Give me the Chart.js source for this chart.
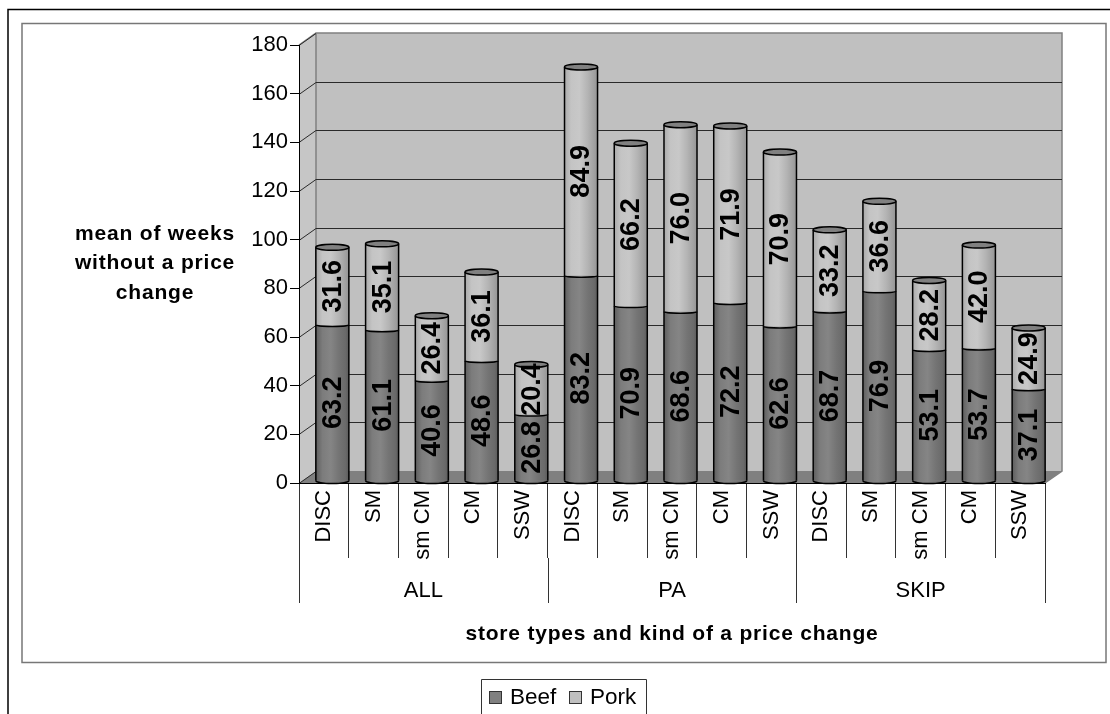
<!DOCTYPE html>
<html>
<head>
<meta charset="utf-8">
<style>
  html, body { margin: 0; padding: 0; background: #fff; overflow: hidden; }
  canvas { display: block; }
</style>
<script src="https://cdn.jsdelivr.net/npm/chart.js"></script>
</head>
<body>
<canvas id="chart" width="1110" height="714"></canvas>
<script>
const categories = ['DISC', 'SM', 'sm CM', 'CM', 'SSW', 'DISC', 'SM', 'sm CM', 'CM', 'SSW', 'DISC', 'SM', 'sm CM', 'CM', 'SSW'];
const groups = ['ALL', 'PA', 'SKIP'];
const beef = [63.2, 61.1, 40.6, 48.6, 26.8, 83.2, 70.9, 68.6, 72.2, 62.6, 68.7, 76.9, 53.1, 53.7, 37.1];
const pork = [31.6, 35.1, 26.4, 36.1, 20.4, 84.9, 66.2, 76.0, 71.9, 70.9, 33.2, 36.6, 28.2, 42.0, 24.9];
const yTitle = ['mean of weeks', 'without a price', 'change'];
const xTitle = 'store types and kind of a price change';

const FONT = '"Liberation Sans", Arial, sans-serif';
const DEPTH_X = 17, DEPTH_Y = 12, BAR_SHIFT = 8.5, ELL = 3;

// horizontal shading so the bars look like cylinders
function shade(ctx, stops) {
    const chart = ctx.chart;
    const x = chart.scales.x ? chart.scales.x.getPixelForValue(ctx.dataIndex) : NaN;
    if (!isFinite(x)) return stops[2][1]; // scales not laid out yet
    const w = 16.5;
    const g = chart.ctx.createLinearGradient(x - w, 0, x + w, 0);
    stops.forEach(s => g.addColorStop(s[0], s[1]));
    return g;
}
const beefStops = [[0, '#5e5e5e'], [0.2, '#7c7c7c'], [0.45, '#858585'], [0.7, '#747474'], [0.9, '#6a6a6a'], [1, '#5a5a5a']];
const porkStops = [[0, '#aaaaaa'], [0.2, '#c4c4c4'], [0.45, '#c8c8c8'], [0.7, '#b4b4b4'], [0.9, '#a0a0a0'], [1, '#949494']];

const backdrop = {
    id: 'backdrop',
    beforeDraw(chart) {
        const c = chart.ctx, y = chart.scales.y, x = chart.scales.x;
        const l = x.left, r = x.right, b = y.getPixelForValue(0), t = y.getPixelForValue(180);

        // frames
        c.save();
        c.strokeStyle = '#000';
        c.lineWidth = 1.5;
        c.beginPath();
        c.moveTo(8, 714); c.lineTo(8, 9.5); c.lineTo(1110, 9.5);
        c.stroke();
        c.strokeStyle = '#777';
        c.lineWidth = 1.5;
        c.strokeRect(22, 23.5, 1084, 639);

        // back wall, side wall, floor
        c.fillStyle = '#c0c0c0';
        c.fillRect(l + DEPTH_X, t - DEPTH_Y, r - l, b - t);
        c.fillStyle = '#c6c6c6';
        c.beginPath();
        c.moveTo(l, b); c.lineTo(l + DEPTH_X, b - DEPTH_Y); c.lineTo(l + DEPTH_X, t - DEPTH_Y); c.lineTo(l, t);
        c.closePath(); c.fill();
        c.fillStyle = '#808080';
        c.beginPath();
        c.moveTo(l, b); c.lineTo(l + DEPTH_X, b - DEPTH_Y); c.lineTo(r + DEPTH_X, b - DEPTH_Y); c.lineTo(r, b);
        c.closePath(); c.fill();

        c.strokeStyle = '#808080';
        c.lineWidth = 1.5;
        c.beginPath();
        c.moveTo(l, t); c.lineTo(l + DEPTH_X, t - DEPTH_Y); c.lineTo(r + DEPTH_X, t - DEPTH_Y);
        c.lineTo(r + DEPTH_X, b - DEPTH_Y); c.lineTo(r, b);
        c.moveTo(l + DEPTH_X, t - DEPTH_Y); c.lineTo(l + DEPTH_X, b - DEPTH_Y);
        c.stroke();

        // gridlines on the wall, with the slant back to the axis
        y.ticks.forEach(tick => {
            const p = Math.round(y.getPixelForValue(tick.value)) + 0.5;
            c.strokeStyle = '#2a2a2a';
            c.lineWidth = 1;
            c.beginPath();
            c.moveTo(l, p); c.lineTo(l + DEPTH_X, p - DEPTH_Y);
            if (tick.value > 0 && tick.value < 180) c.lineTo(r + DEPTH_X, p - DEPTH_Y);
            c.stroke();
        });
        c.restore();
    },
    beforeDatasetsDraw(chart) {
        chart.ctx.save();
        chart.ctx.translate(BAR_SHIFT, 0);
    },
    afterDatasetsDraw(chart) {
        const c = chart.ctx;
        const low = chart.getDatasetMeta(0).data, high = chart.getDatasetMeta(1).data;
        c.strokeStyle = '#000';
        c.lineWidth = 1.5;
        low.forEach((bar, i) => {
            const top = high[i], w = bar.width / 2;
            // rounded foot
            c.fillStyle = shade({ chart, dataIndex: i }, beefStops);
            c.beginPath();
            c.ellipse(bar.x, bar.base, w, ELL, 0, 0, Math.PI);
            c.closePath(); c.fill();
            c.beginPath();
            c.ellipse(bar.x, bar.base, w, ELL, 0, 0, Math.PI);
            c.stroke();
            // seam between the two stacks
            c.fillStyle = shade({ chart, dataIndex: i }, porkStops);
            c.beginPath();
            c.ellipse(bar.x, bar.y, w, ELL * 0.5, 0, 0, Math.PI);
            c.closePath(); c.fill();
            c.beginPath();
            c.ellipse(bar.x, bar.y, w, ELL * 0.5, 0, 0, Math.PI);
            c.stroke();
            // sides
            c.beginPath();
            c.moveTo(bar.x - w, bar.base); c.lineTo(bar.x - w, top.y);
            c.moveTo(bar.x + w, bar.base); c.lineTo(bar.x + w, top.y);
            c.stroke();
            // lid
            c.fillStyle = '#808080';
            c.beginPath();
            c.ellipse(top.x, top.y, w, ELL, 0, 0, Math.PI * 2);
            c.fill(); c.stroke();
        });

        // values, turned on their side
        c.fillStyle = '#000';
        c.font = 'bold 27px ' + FONT;
        c.textAlign = 'center';
        c.textBaseline = 'middle';
        chart.data.datasets.forEach((set, d) => {
            chart.getDatasetMeta(d).data.forEach((bar, i) => {
                c.save();
                c.translate(bar.x, (bar.y + bar.base) / 2);
                c.rotate(-Math.PI / 2);
                c.fillText(set.data[i].toFixed(1), 0, 1);
                c.restore();
            });
        });
        c.restore();
    },
    afterDraw(chart) {
        const c = chart.ctx, x = chart.scales.x;
        const step = (x.right - x.left) / categories.length;
        c.save();

        // second level of the category axis
        c.strokeStyle = '#333';
        c.lineWidth = 1;
        c.fillStyle = '#000';
        c.font = '22px ' + FONT;
        c.textAlign = 'center';
        c.textBaseline = 'middle';
        groups.forEach((g, i) => {
            const from = x.left + step * 5 * i;
            c.fillText(g, from + step * 2.5, 591);
        });
        for (let i = 0; i <= groups.length; i++) {
            const p = Math.round(x.left + step * 5 * i) + 0.5;
            c.beginPath();
            c.moveTo(p, 558); c.lineTo(p, 603);
            c.stroke();
        }

        // axis titles, the original sets them a little wide
        c.font = 'bold 21px ' + FONT;
        c.letterSpacing = '0.8px';
        c.fillText(xTitle, 672, 634);
        yTitle.forEach((line, i) => c.fillText(line, 155, 234 + i * 29.5));
        c.letterSpacing = '0px';

        // legend, cut by the bottom of the picture like the original
        c.strokeStyle = '#333';
        c.beginPath();
        c.moveTo(481.5, 714); c.lineTo(481.5, 679.5); c.lineTo(646.5, 679.5); c.lineTo(646.5, 714);
        c.stroke();
        c.font = '22.5px ' + FONT;
        c.textAlign = 'left';
        const pos = [[489.5, 510], [569.5, 590]];
        chart.data.datasets.forEach((set, i) => {
            c.fillStyle = i === 0 ? '#808080' : '#c0c0c0';
            c.fillRect(pos[i][0], 691.5, 12, 12);
            c.strokeRect(pos[i][0], 691.5, 12, 12);
            c.fillStyle = '#000';
            c.fillText(set.label, pos[i][1], 698);
        });
        c.restore();
    }
};

new Chart(document.getElementById('chart'), {
    type: 'bar',
    data: {
        labels: categories,
        datasets: [
            { label: 'Beef', data: beef, yAxisID: 'yBar', backgroundColor: ctx => shade(ctx, beefStops) },
            { label: 'Pork', data: pork, yAxisID: 'yBar', backgroundColor: ctx => shade(ctx, porkStops) }
        ]
    },
    options: {
        responsive: false,
        animation: false,
        devicePixelRatio: 1,
        barPercentage: 0.664,
        categoryPercentage: 1,
        layout: { padding: { top: 45, right: 65, left: 0, bottom: 0 } },
        plugins: { legend: { display: false }, tooltip: { enabled: false } },
        scales: {
            x: {
                stacked: true,
                afterFit: s => { s.height = 231; },
                grid: { offset: true, drawOnChartArea: false, tickLength: 75, color: '#333' },
                border: { color: '#000' },
                ticks: {
                    autoSkip: false, minRotation: 90, maxRotation: 90,
                    padding: -68, color: '#000', font: { family: FONT, size: 22 }
                }
            },
            y: {
                min: 0, max: 180,
                afterFit: s => { s.width = 299; },
                grid: { drawOnChartArea: false, tickLength: 9, color: '#000' },
                border: { color: '#000' },
                ticks: { stepSize: 20, padding: 2, color: '#000', font: { family: FONT, size: 22 } }
            },
            // bars stand slightly behind the front axis, so they get their own scale
            yBar: { display: false, stacked: true, min: -1, max: 177 }
        }
    },
    plugins: [backdrop]
});
</script>
</body>
</html>
